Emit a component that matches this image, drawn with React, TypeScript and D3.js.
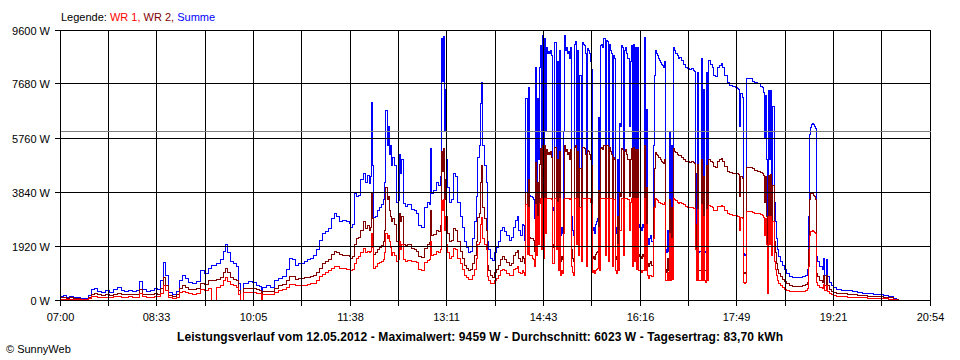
import React from "react";
import * as d3 from "d3";

// time of each reading, minutes after 07:00
const minutes = [
  0, 3, 6, 9, 12, 15, 19, 23, 27, 30,
  33, 35, 39, 43, 47, 51, 55, 58, 61, 65,
  69, 73, 76, 79, 82, 86, 90, 93, 96, 99,
  101, 104, 107, 111, 114, 117, 120, 123, 127, 130,
  134, 138, 142, 145, 147, 150, 153, 156, 158, 160,
  163, 166, 169, 171, 173, 175, 180, 184, 188, 191,
  193, 194, 197, 201, 205, 209, 213, 217, 220, 222,
  225, 228, 231, 234, 237, 240, 243, 245, 248, 251,
  254, 257, 260, 263, 265, 267, 270, 274, 277,
  278, 280, 282, 284, 286, 288, 290, 292, 294, 296, 297,
  298, 299, 300, 302, 304, 306, 308, 310, 311, 312, 313, 314,
  315, 316, 317, 318, 320, 322, 324, 325, 326, 327, 329, 331, 333, 336,
  339, 341, 343, 346, 349, 352, 354, 355, 356, 358, 360, 362, 364,
  365, 366, 367, 368, 369, 370, 371, 373, 375, 377, 379, 381, 383, 385,
  387, 389, 391, 393, 395, 397, 399, 400, 402, 403, 404, 405, 406, 408, 409, 410,
  412, 414, 416, 418, 420, 422, 424, 426, 428, 430, 432, 434, 436, 438, 439, 441,
  443, 444, 445, 446, 448, 449, 450, 451,
  452, 453, 454, 455, 456, 457, 458, 459, 460, 461, 462, 463, 464, 465, 466, 467, 468, 469, 470, 471,
  472, 473, 474, 475, 476, 477, 478, 479, 480, 481, 482, 483, 484, 485, 486, 487, 488, 489, 490, 491,
  492, 493, 494, 495, 496, 497, 498, 499, 500, 501, 502, 503, 504, 505, 506, 507, 508, 509, 510, 511,
  512, 513, 514, 515, 516, 517, 518, 519, 520, 521, 522, 523, 524, 525, 526, 527, 528, 529, 530, 531,
  532, 533, 534, 535, 536, 537, 538, 539, 540, 541, 542, 543, 544, 545, 546, 547, 548, 549, 550, 551,
  552, 553, 554, 555, 556, 557, 558, 559, 560, 561, 562, 563, 564, 565, 566, 567, 568, 569, 570, 571,
  572, 573, 574, 575, 576, 577, 578, 579, 580, 581, 582, 583, 584, 585, 586, 587, 588, 589, 590, 591,
  592, 593, 595, 597, 599, 601, 603, 605, 607, 608, 609, 610, 611, 612, 613, 614, 615, 616,
  617, 618, 619, 620, 621, 623, 625, 626, 628, 630, 632, 634, 635, 637, 639, 641, 644, 647, 649, 650,
  651, 652, 654, 655, 656, 657, 658, 660, 663, 665, 668, 671, 673, 674, 675, 676, 677,
  678, 679, 680, 681, 682, 683, 684, 685, 686, 687, 688, 690, 692, 694, 696, 699,
  702, 705, 708, 711, 714, 716, 717, 718, 719, 720, 721, 722, 723, 724, 725, 726,
  728, 730, 731, 732, 734, 735, 737, 739, 741, 744, 749, 754, 759, 764, 769, 774, 779, 784, 789, 794, 799, 801, 803,
];

// Summe (W)
const summe = [
  140, 180, 120, 150, 110, 90, 70, 80, 180, 380,
  420, 330, 300, 340, 300, 380, 450, 350, 330, 370,
  330, 360, 690, 380, 330, 350, 420, 380, 700, 1350,
  900, 300, 230, 330, 700, 880, 800, 650, 620, 680,
  1050, 950, 1150, 1250, 1230, 1300, 1450, 1750, 1980, 1700,
  1400, 1300, 1200, 600, 0, 620, 680, 650, 540, 500,
  0, 480, 520, 470, 700, 800, 860, 1100, 1490, 1450,
  1250, 1300, 1320, 1380, 1450, 1480, 1600, 1800, 2150, 2380,
  2450, 2550, 2900, 3100, 3000, 2800, 2850, 2800, 2750,
  2600, 2700, 3800, 3700, 3750, 4300, 4500, 4200, 4450, 4150, 4400,
  7050, 4800, 2950, 3000, 3200, 3300, 3400, 3600, 4200, 6750, 5500, 6200,
  5200, 5500, 4800, 5100, 4800, 3500, 3550, 5200, 4500, 5000, 3450, 3350, 3400, 3250,
  3200, 3100, 2650, 2600, 3300, 3500, 3400, 5400, 3800, 3900, 4200, 4100, 4400,
  9300, 7800, 9400, 6000, 7500, 5000, 4000, 3500, 3600, 4500, 4400, 3500, 3000, 2600,
  2100, 1900, 1700, 1750, 2200, 2800, 3700, 5100, 5500, 7000, 7750, 5500, 4800, 4200, 2100, 1800,
  1500, 1420, 1700, 1900, 2100, 2500, 2600, 2450, 2300, 2150, 2250, 2600, 2850, 3000, 2500, 2300,
  2700, 2650, 2150, 7180, 3800, 7570, 3750, 3700,
  3650, 3600, 2900, 8290, 4000, 7200, 5000, 8300, 9070, 4500, 9420, 3800, 9300, 6000, 9000, 8800, 8850, 8800, 8900, 8700,
  3200, 3300, 9170, 4500, 8500, 2700, 8900, 2300, 2600, 2400, 6000, 9420, 8900, 9000, 8800, 8850, 8600, 9000, 3000, 2500,
  2300, 9100, 9200, 5000, 8900, 4000, 8000, 3500, 9170, 9100, 9050, 8800, 3000, 8960, 8900, 8800, 8500, 8200, 2500, 2600,
  2400, 2700, 2800, 2900, 6500, 2700, 9070, 9100, 9000, 9300, 4000, 9250, 9200, 3500, 9100, 8900, 8800, 3000, 8700, 8600,
  2600, 2400, 5000, 2600, 6300, 6200, 9070, 9000, 4000, 8900, 9000, 8800, 8600, 6200, 8500, 9070, 3000, 9100, 3500, 9000,
  2800, 9000, 2600, 2700, 2600, 2500, 2700, 2600, 9350, 2700, 6800, 2200, 2000, 2200, 2300, 2100, 5500, 8000, 8900, 8800,
  8700, 8600, 8550, 8450, 8400, 8350, 8300, 8500, 1800, 1700, 2500, 1750, 6000, 1700, 5500, 1900, 9000, 8900, 8800, 8700,
  8600, 8650, 8550, 8400, 8300, 8250, 8200, 8250, 8180, 8150, 4500, 1800, 8100, 1700, 1750, 8600, 1800, 7500,
  1750, 1700, 8100, 1800, 8530, 8400, 8300, 8000, 7950, 8300, 8350, 8420, 8300, 8000, 7750, 7650, 7600, 7580, 7550, 7500,
  6200, 7350, 7220, 1660, 1600, 1650, 7890, 7880, 7800, 7750, 7700, 7620, 7580, 7400, 5800, 7300, 5000,
  710, 7450, 5000, 7470, 4000, 6900, 3500, 2800, 2200, 1800, 1550, 1400, 1250, 1100, 960, 860,
  830, 820, 830, 850, 900, 1100, 3000, 5900, 6150, 6250, 6300, 6250, 6200, 6100, 1550, 1400,
  1200, 1100, 1500, 900, 1450, 850, 650, 550, 450, 380, 360, 340, 310, 290, 260, 240, 230, 210, 170, 130, 80, 40, 0,
];

// WR 2 (W)
const wr2 = [
  90, 110, 80, 100, 70, 60, 50, 50, 110, 230,
  250, 200, 180, 200, 180, 230, 260, 210, 200, 220,
  200, 210, 400, 220, 200, 210, 250, 220, 420, 830,
  520, 180, 140, 200, 420, 520, 480, 400, 380, 410,
  620, 560, 700, 720, 710, 730, 820, 1000, 1150, 1000,
  820, 760, 700, 350, 0, 420, 440, 420, 380, 350,
  0, 330, 330, 320, 440, 520, 560, 700, 860, 850,
  760, 790, 800, 820, 830, 850, 900, 1000, 1150, 1300,
  1400, 1450, 1650, 1750, 1700, 1650, 1600, 1600, 1570,
  1500, 1550, 2000, 2200, 2250, 2500, 2800, 2550, 2650, 2500, 2600,
  3800, 2900, 1650, 1700, 1800, 1900, 1950, 2100, 2500, 4000, 3600, 3700,
  3200, 3000, 2800, 2900, 2700, 2100, 2150, 3100, 2800, 3000, 2000, 1950, 2000, 1850,
  1800, 1750, 1550, 1530, 1850, 2000, 2050, 3200, 2300, 2350, 2500, 2450, 2650,
  5300, 4600, 5400, 3600, 4300, 3000, 2400, 2100, 2150, 2550, 2500, 2100, 1750, 1500,
  1250, 1150, 1050, 1100, 1300, 1600, 2100, 2950, 3100, 4200, 4800, 3300, 2900, 2500, 1250, 1050,
  900, 820, 1000, 1100, 1250, 1450, 1550, 1450, 1350, 1250, 1300, 1600, 1700, 1780, 1500, 1400,
  1550, 1500, 1300, 3840, 2300, 4300, 2250, 2200,
  2200, 2150, 1750, 4900, 2400, 4200, 3000, 4850, 5400, 2700, 5500, 2300, 5500, 3600, 5380, 5200, 5250, 5200, 5300, 5100,
  1900, 2000, 5450, 2700, 5000, 1650, 5300, 1400, 1550, 1450, 3600, 5500, 5300, 5380, 5200, 5250, 5000, 5380, 1800, 1500,
  1400, 5450, 5500, 3000, 5300, 2400, 4700, 2100, 5450, 5450, 5400, 5200, 1800, 5350, 5300, 5200, 5000, 4800, 1500, 1550,
  1450, 1650, 1700, 1750, 3900, 1650, 5400, 5450, 5380, 5500, 2400, 5500, 5500, 2100, 5450, 5300, 5200, 1800, 5100, 5000,
  1550, 1450, 3000, 1550, 3800, 3700, 5400, 5380, 2400, 5300, 5380, 5200, 5000, 3700, 5000, 5400, 1800, 5450, 2100, 5380,
  1700, 5380, 1550, 1650, 1550, 1500, 1650, 1550, 5500, 1650, 4000, 1300, 1200, 1300, 1400, 1250, 3300, 4700, 5280, 5200,
  5150, 5100, 5080, 5000, 4950, 4900, 4870, 5000, 1100, 1000, 1500, 1050, 3600, 1000, 3300, 1150, 5400, 5300, 5250, 5200,
  5150, 5150, 5100, 5000, 4950, 4950, 4900, 4950, 4900, 4880, 2700, 1100, 4850, 1050, 1050, 5000, 1100, 4400,
  1050, 1050, 4800, 1100, 5000, 4950, 4900, 4750, 4740, 4950, 5000, 5040, 4950, 4750, 4600, 4550, 4520, 4510, 4500, 4480,
  3700, 4400, 4350, 1000, 950, 1000, 4740, 4720, 4680, 4620, 4600, 4550, 4520, 4450, 3500, 4400, 3000,
  450, 4450, 3000, 4470, 2400, 4100, 2100, 1700, 1300, 1100, 950, 850, 760, 680, 600, 530,
  510, 500, 510, 520, 560, 650, 1800, 3600, 3800, 3810, 3800, 3750, 3700, 3600, 950, 850,
  700, 650, 900, 550, 880, 520, 400, 330, 270, 240, 240, 230, 200, 190, 170, 160, 150, 140, 110, 90, 50, 30, 0,
];

// WR 1 (W)
const wr1 = [
  40, 50, 40, 50, 40, 30, 20, 30, 60, 130,
  150, 120, 110, 120, 110, 130, 160, 120, 120, 130,
  110, 120, 250, 140, 110, 120, 150, 130, 250, 530,
  350, 100, 80, 120, 270, 330, 300, 250, 230, 260,
  380, 360, 430, 0, 0, 460, 520, 700, 810, 690,
  560, 520, 480, 220, 0, 280, 280, 270, 260, 250,
  0, 230, 220, 220, 300, 360, 400, 480, 570, 560,
  520, 530, 530, 550, 570, 590, 620, 700, 860, 920,
  1000, 1050, 1150, 1200, 1200, 1150, 1130, 1120, 1100,
  1080, 1100, 1300, 1500, 1550, 1700, 1850, 1700, 1750, 1700, 1750,
  2400, 1900, 1150, 1200, 1300, 1350, 1400, 1450, 1700, 2400, 2200, 2300,
  2100, 1900, 1600, 1700, 1600, 1400, 1450, 2100, 1800, 2000, 1450, 1400, 1420, 1400,
  1380, 1350, 1100, 1050, 1350, 1420, 1450, 2100, 1600, 1650, 1750, 1700, 1800,
  3550, 3200, 3600, 2500, 3000, 2000, 1700, 1500, 1550, 1850, 1800, 1500, 1300, 1100,
  900, 820, 740, 740, 900, 1100, 1500, 2000, 2050, 2700, 2950, 2200, 2000, 1800, 850, 700,
  620, 600, 700, 800, 900, 1050, 1100, 1050, 960, 880, 900, 1100, 1150, 1200, 1000, 950,
  1050, 1000, 900, 3400, 1650, 3300, 1600, 1600,
  1500, 1450, 1200, 3400, 1600, 3000, 2000, 3450, 3620, 1800, 3620, 1500, 3620, 2400, 3620, 3620, 3620, 3620, 3620, 3600,
  1300, 1300, 3620, 1800, 3500, 1050, 3620, 900, 1050, 950, 2400, 3620, 3620, 3620, 3620, 3620, 3600, 3620, 1200, 1000,
  900, 3620, 3620, 2000, 3620, 1600, 3300, 1400, 3620, 3620, 3620, 3620, 1200, 3620, 3620, 3620, 3500, 3400, 1000, 1050,
  950, 1050, 1100, 1150, 2600, 1050, 3620, 3620, 3620, 3620, 1600, 3620, 3620, 1400, 3620, 3620, 3620, 1200, 3600, 3600,
  1050, 950, 2000, 1050, 2500, 2500, 3620, 3620, 1600, 3620, 3620, 3620, 3600, 2500, 3500, 3620, 1200, 3620, 1400, 3620,
  1100, 3620, 1050, 1050, 1050, 1000, 1050, 1050, 3620, 1050, 2700, 900, 800, 900, 900, 850, 2200, 3300, 3620, 3600,
  3550, 3500, 3470, 3450, 3450, 3420, 3400, 3500, 700, 700, 1000, 700, 2400, 700, 2200, 750, 3620, 3600, 3550, 3500,
  3450, 3500, 3450, 3400, 3350, 3300, 3300, 3300, 3280, 3270, 1800, 700, 3250, 700, 700, 3400, 700, 3000,
  700, 650, 3250, 700, 3380, 3350, 3300, 3200, 3200, 3350, 3350, 3380, 3330, 3200, 3100, 3050, 3030, 3020, 3000, 3000,
  2500, 2950, 2900, 650, 620, 650, 3180, 3170, 3130, 3100, 3080, 3050, 3020, 2950, 2300, 2900, 2000,
  260, 3000, 2000, 3000, 1600, 2800, 1400, 1100, 900, 700, 620, 520, 470, 400, 350, 330,
  320, 320, 320, 330, 340, 420, 1200, 2300, 2450, 2450, 2480, 2450, 2420, 2400, 650, 550,
  450, 420, 560, 350, 550, 330, 250, 210, 170, 140, 130, 120, 100, 100, 90, 80, 80, 70, 60, 40, 30, 10, 0,
];

const yTicks = [0, 1920, 3840, 5760, 7680, 9600];
const xTickLabels = ["07:00", "08:33", "10:05", "11:38", "13:11", "14:43", "16:16", "17:49", "19:21", "20:54"];
const averageW = 6023;
const totalMinutes = 834;
const legendParts = [
  { text: "Legende: ", color: "#000000" },
  { text: "WR 1, ", color: "#ff0000" },
  { text: "WR 2, ", color: "#800000" },
  { text: "Summe", color: "#0000ff" },
];
const title =
  "Leistungsverlauf vom 12.05.2012 - Maximalwert: 9459 W - Durchschnitt: 6023 W - Tagesertrag: 83,70 kWh";
const credit = "\u00a9 SunnyWeb";

const FONT = '"Liberation Sans", Arial, sans-serif';

export default function App() {
  const W = 960;
  const H = 360;
  const left = 60;
  const right = 930;
  const top = 30;
  const bottom = 300;

  const x = d3.scaleLinear().domain([0, totalMinutes]).range([left, right]);
  const y = d3.scaleLinear().domain([0, 9600]).range([bottom, top]);
  const px = (v: number) => Math.floor(v) + 0.5;

  const n = Math.min(minutes.length, summe.length, wr1.length, wr2.length);
  const idx = d3.range(n);
  const mkLine = (vals: number[]) =>
    d3
      .line<number>()
      .x((i) => Math.round(x(minutes[i])) + 0.5)
      .y((i) => Math.round(y(vals[i])) + 0.5)
      .curve(d3.curveStepAfter)(idx) || "";

  const gridCount = 18;
  const gridMinutes = d3.range(gridCount + 1).map((i) => (i * totalMinutes) / gridCount);

  return (
    <svg
      width={W}
      height={H}
      viewBox={`0 0 ${W} ${H}`}
      style={{ position: "absolute", left: 0, top: 0, background: "#ffffff" }}
      fontFamily={FONT}
    >
      <rect x={0} y={0} width={W} height={H} fill="#ffffff" />

      {/* data */}
      <g fill="none" strokeWidth={1} shapeRendering="crispEdges">
        <path d={mkLine(summe)} stroke="#0000ff" />
        <path d={mkLine(wr2)} stroke="#800000" />
        <path d={mkLine(wr1)} stroke="#ff0000" />
      </g>

      {/* grid */}
      <g stroke="#000000" strokeWidth={1} shapeRendering="crispEdges">
        {gridMinutes.map((m, i) => (
          <line key={"v" + i} x1={px(x(m))} x2={px(x(m))} y1={px(y(9600))} y2={px(y(0)) + 5} />
        ))}
        {yTicks.map((t) => (
          <line key={"h" + t} x1={px(x(0)) - 6} x2={px(x(totalMinutes))} y1={px(y(t))} y2={px(y(t))} />
        ))}
      </g>
      <line
        x1={px(x(0))}
        x2={px(x(totalMinutes))}
        y1={Math.round(y(averageW)) + 0.5}
        y2={Math.round(y(averageW)) + 0.5}
        stroke="#808080"
        strokeWidth={1}
        shapeRendering="crispEdges"
      />

      {/* y labels */}
      <g fontSize={11} fill="#000000" textAnchor="end">
        {yTicks.map((t) => (
          <text key={"yl" + t} x={50} y={px(y(t)) + 4}>
            {`${t} W`}
          </text>
        ))}
      </g>

      {/* x labels */}
      <g fontSize={11} fill="#000000" textAnchor="middle">
        {xTickLabels.map((lab, i) => (
          <text key={"xl" + i} x={px(x(gridMinutes[i * 2]))} y={321}>
            {lab}
          </text>
        ))}
      </g>

      {/* legend */}
      <text x={61} y={21} fontSize={11}>
        {legendParts.map((p, i) => (
          <tspan key={i} fill={p.color} style={{ whiteSpace: "pre" }}>
            {p.text}
          </tspan>
        ))}
      </text>

      {/* title */}
      <text
        x={480}
        y={341}
        fontSize={12}
        fontWeight="bold"
        textAnchor="middle"
        textLength={606}
        lengthAdjust="spacing"
        fill="#000000"
      >
        {title}
      </text>

      <text x={6} y={353} fontSize={11} fill="#000000">
        {credit}
      </text>
    </svg>
  );
}
